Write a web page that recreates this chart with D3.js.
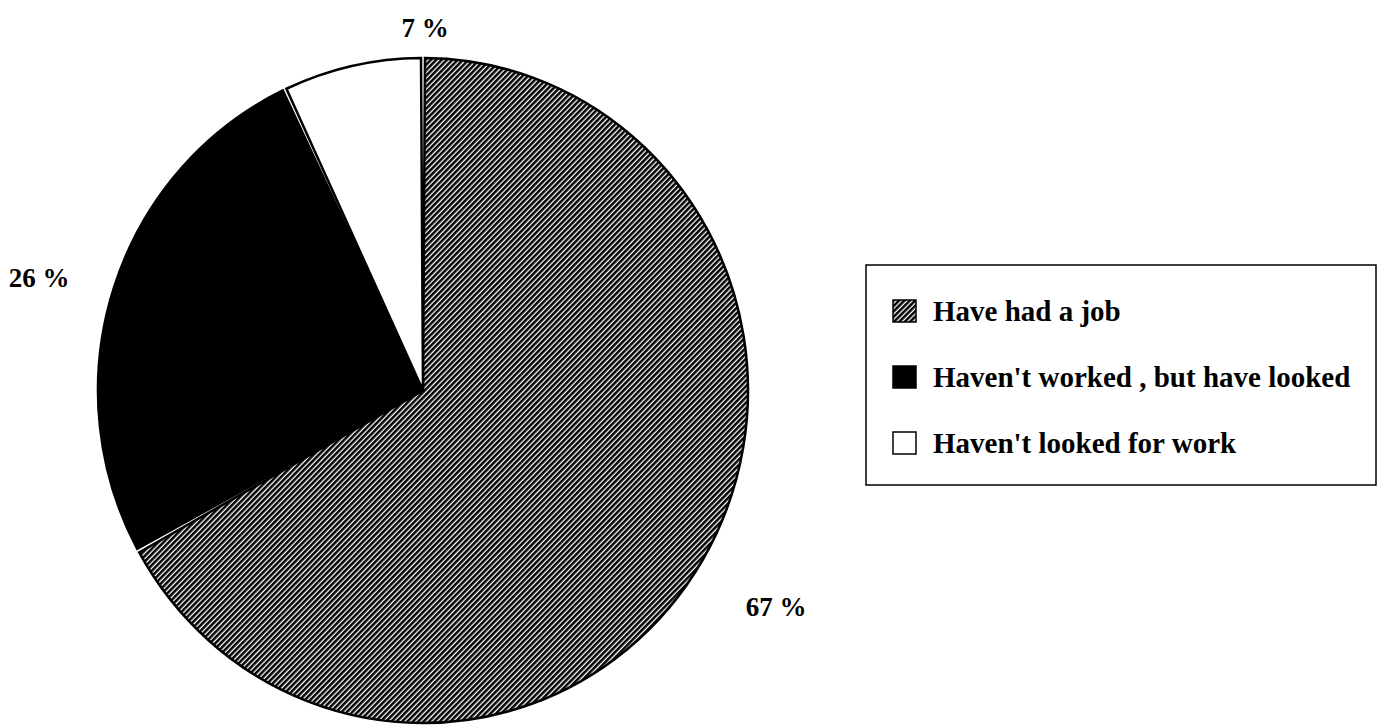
<!DOCTYPE html>
<html>
<head>
<meta charset="utf-8">
<script src="https://cdn.jsdelivr.net/npm/d3@7"></script>
<style>
  body { margin: 0; background: #fff; }
  text { font-family: "Liberation Serif", "Times New Roman", serif; font-weight: bold; fill: #000; }
</style>
</head>
<body>
<svg id="chart" width="1379" height="728"></svg>
<script>
// Survey responses about work experience
const categories = ["Have had a job", "Haven't worked , but have looked", "Haven't looked for work"];
const shares = [67, 26, 7];
const pctLabels = ["67 %", "26 %", "7 %"];

const W = 1379, H = 728;
const svg = d3.select("#chart");
svg.append("rect").attr("width", W).attr("height", H).attr("fill", "#fff");

// Diagonal hatch fill
const defs = svg.append("defs");
const hatch = defs.append("pattern")
  .attr("id", "hatch")
  .attr("patternUnits", "userSpaceOnUse")
  .attr("width", 3.8).attr("height", 10)
  .attr("patternTransform", "rotate(45)");
hatch.append("rect").attr("width", 3.8).attr("height", 10).attr("fill", "#fff");
hatch.append("rect").attr("width", 2.5).attr("height", 10).attr("fill", "#000");

const fills = ["url(#hatch)", "#000", "#fff"];

// Pie geometry (slightly taller than wide)
const cx = 423, cy = 390.5, rx = 325, ry = 332.5;
const r = rx;

const pie = d3.pie().sort(null).value(d => d)(shares);
const arc = d3.arc().innerRadius(0).outerRadius(r).padRadius(r).padAngle(4 / r);

const g = svg.append("g").attr("transform", `translate(${cx},${cy}) scale(1,${ry / rx})`);
g.selectAll("path.slice")
  .data(pie)
  .join("path")
  .attr("class", "slice")
  .attr("d", arc)
  .attr("fill", (d, i) => fills[i])
  .attr("stroke", "#000")
  .attr("stroke-width", 2.5)
  .attr("stroke-linejoin", "miter");

// Percentage labels outside the pie
const labelPos = [
  { x: 776, y: 616 },
  { x: 39, y: 287 },
  { x: 425, y: 37 }
];
svg.selectAll("text.pct")
  .data(pctLabels)
  .join("text")
  .attr("class", "pct")
  .attr("x", (d, i) => labelPos[i].x)
  .attr("y", (d, i) => labelPos[i].y)
  .attr("text-anchor", "middle")
  .attr("font-size", 27)
  .text(d => d);

// Legend
const lg = svg.append("g");
const lx = 866, ly = 265, lw = 510, lh = 220;
lg.append("rect")
  .attr("x", lx).attr("y", ly).attr("width", lw).attr("height", lh)
  .attr("fill", "#fff").attr("stroke", "#000").attr("stroke-width", 1.5);

const rowY = d3.scalePoint().domain(categories).range([ly + 56, ly + 188]);
const rows = lg.selectAll("g.row").data(categories).join("g").attr("class", "row")
  .attr("transform", d => `translate(${lx + 27},${rowY(d)})`);
rows.append("rect")
  .attr("x", 0).attr("y", -21).attr("width", 23).attr("height", 22)
  .attr("fill", (d, i) => fills[i])
  .attr("stroke", "#000").attr("stroke-width", 1.5);
rows.append("text")
  .attr("x", 40).attr("y", 0)
  .attr("font-size", 29)
  .text(d => d);
</script>
</body>
</html>
